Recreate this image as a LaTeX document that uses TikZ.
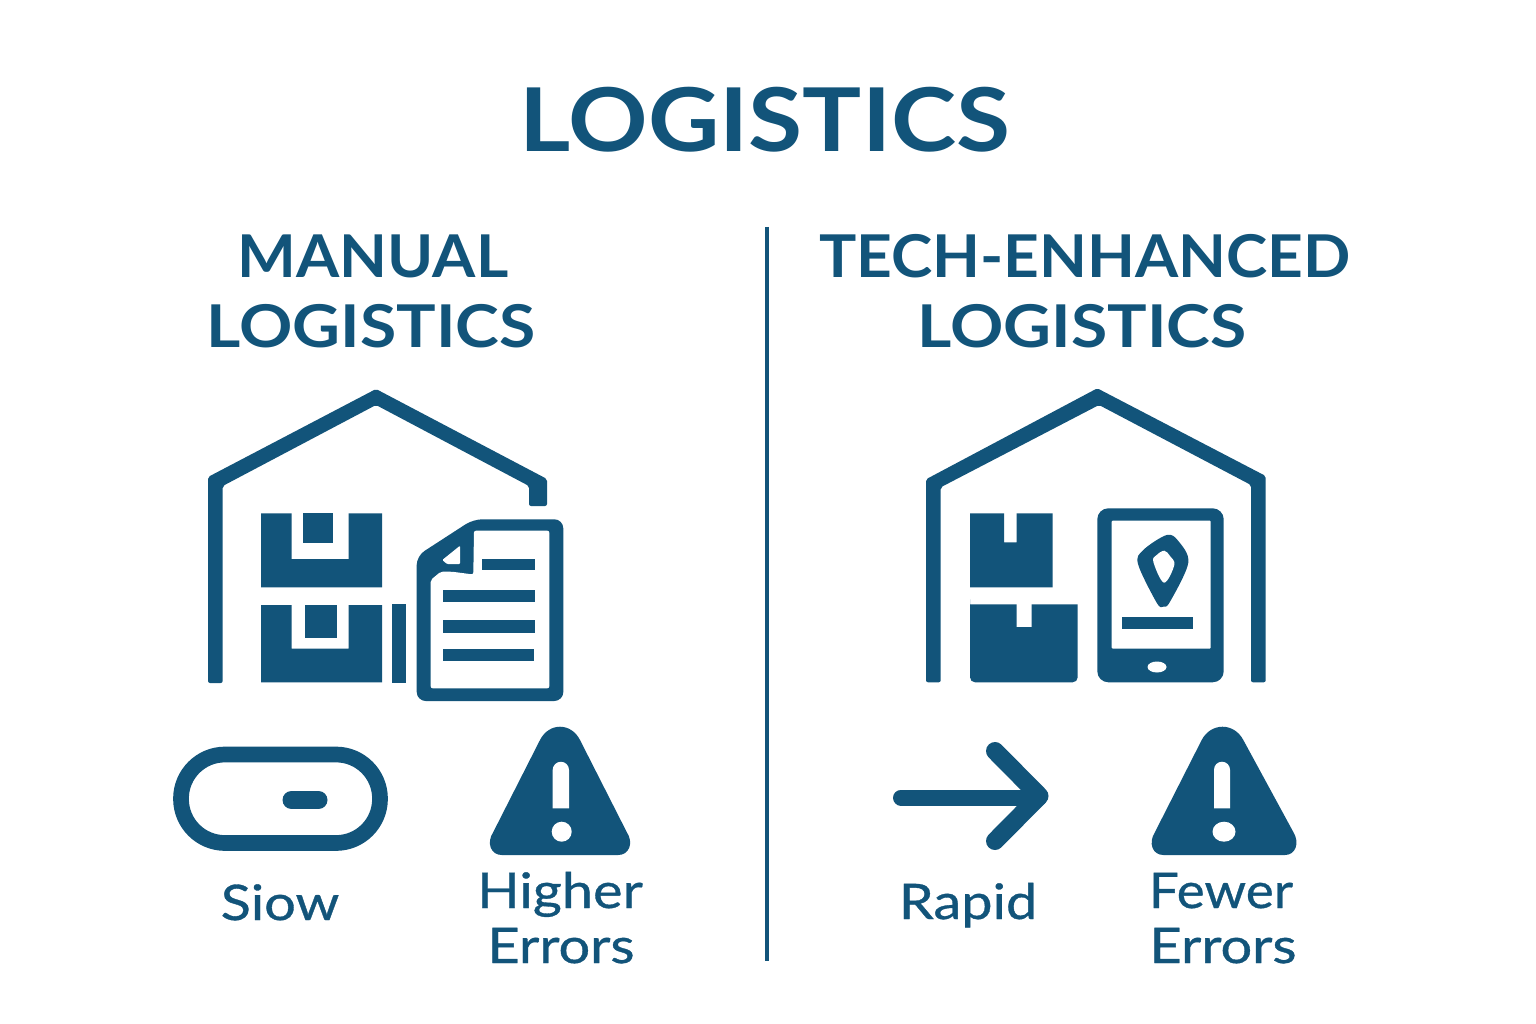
\documentclass[tikz,border=0pt]{standalone}
\usepackage{fontspec}
\setmainfont{Lato}
\newfontfamily\titlefont[FakeStretch=1.12]{Lato}
\newfontfamily\headfont[FakeStretch=1.055]{Lato}
\newfontfamily\capfont[FakeStretch=1.14,FakeBold=0.7]{Lato}
\usetikzlibrary{positioning}
\definecolor{logiblue}{HTML}{12547A}
\tikzset{
    titletext/.style={anchor=base, inner sep=0pt, color=logiblue, font=\titlefont\fontsize{88}{88}\selectfont\bfseries},
    headtext/.style={anchor=base, inner sep=0pt, color=logiblue, font=\titlefont\fontsize{59}{59}\selectfont\bfseries},
    wordtext/.style={headtext, font=\headfont\fontsize{59}{59}\selectfont\bfseries},
    captext/.style={anchor=base, inner sep=0pt, color=logiblue, font=\capfont\fontsize{49}{49}\selectfont},
    iconfill/.style={fill=logiblue, draw=none},
    holefill/.style={fill=white, draw=none},
    iconline/.style={draw=logiblue, line cap=round, line join=round}
}

\begin{document}
\begin{tikzpicture}[x=1pt, y=-1pt]
    \useasboundingbox (0,0) rectangle (1536,1024);
    \fill[white] (0,0) rectangle (1536,1024);

    % Title
    \node[titletext] (title) at (765,152) {LOGISTICS};

    % Divider
    \draw[logiblue, line width=3.5pt] (767,227) -- (767,961);

    % === Left side: Manual ===
    \node[wordtext] (manualA) at (373,277) {MANUAL};
    \node[headtext] (manualB) at (371,347) {LOGISTICS};

    % Warehouse outline
    \fill[iconfill, rounded corners=2pt] (208,683) -- (208,477) -- (376,389) -- (547,479) -- (547,506) -- (529,506)
        -- (529,486) -- (376,405) -- (222.7,486) -- (222.7,683) -- cycle;

    % Boxes
    \fill[iconfill] (261,513.3) -- (291.7,513.3) -- (291.7,559) -- (348.7,559) -- (348.7,513.3) -- (382,513.3)
        -- (382,587.3) -- (261,587.3) -- cycle;
    \fill[iconfill] (303.3,513.3) rectangle (333,542.7);
    \fill[iconfill] (261,605) -- (291.7,605) -- (291.7,648.7) -- (348.7,648.7) -- (348.7,605) -- (382,605)
        -- (382,682.3) -- (261,682.3) -- cycle;
    \fill[iconfill] (305.3,605) rectangle (336.7,637.7);
    \fill[iconfill] (391.7,604.3) rectangle (405.7,682.7);

    % Paper sheet
    \fill[iconfill, rounded corners=9pt] (473.3,519.3) -- (563.3,519.3) -- (563.3,701) -- (416.7,701)
        -- (416.7,556) -- cycle;
    \fill[holefill, rounded corners=2pt] (474,530.7) -- (549.3,530.7) -- (549.3,688.3) -- (430.7,688.3) -- (430.7,580)
        -- (440.7,571.7) -- (452,571.7) -- (473.3,574.5) -- cycle;
    \fill[holefill, rounded corners=1pt] (460,545.7) -- (460,564) -- (447,564) -- (442.3,560) -- cycle;
    \fill[iconfill] (482.3,558.7) rectangle (534.7,570);
    \fill[iconfill] (443.3,590) rectangle (534.7,602.3);
    \fill[iconfill] (443.3,620.3) rectangle (534.7,633.3);
    \fill[iconfill] (443.3,648.7) rectangle (534,661);

    % Slow gauge
    \draw[iconline, line width=15.7pt, rounded corners=44pt] (181,754.5) rectangle (380,843);
    \draw[iconline, line width=18pt] (291.5,800) -- (318.5,800);
    \node[captext] (slowlabel) at (280,920) {Siow};

    % Warning sign
    \fill[iconfill] (501.7,855) .. controls (491,855) and (486,843) .. (493.3,832) -- (540,740)
        .. controls (549,722.3) and (571,722.3) .. (580,740) -- (626.7,832)
        .. controls (634,843) and (629,855) .. (618.3,855) -- cycle;
    \fill[holefill] (552.7,808.3) -- (552.7,769.9) arc (180:0:8.15pt) -- (569,808.3) -- cycle;
    \fill[holefill] (561.7,831.7) circle (10pt);
    \node[captext] (higherlabel) at (560,908) {Higher};
    \node[captext] (errorsA) at (561,963) {Errors};

    % === Right side: Tech-enhanced ===
    \node[wordtext] (techA) at (1085,277) {TECH-ENHANCED};
    \node[headtext] (techB) at (1082,347) {LOGISTICS};

    % Warehouse outline
    \fill[iconfill, rounded corners=2pt] (926,682.3) -- (926,479.3) -- (1097.3,388.3) -- (1265.7,476) -- (1265.7,682.3)
        -- (1251,682.3) -- (1251,485) -- (1099,405) -- (940.7,487.3) -- (940.7,682.3) -- cycle;

    % Boxes
    \fill[iconfill] (970,513.3) -- (1004,513.3) -- (1004,542.3) -- (1016.7,542.3) -- (1016.7,513.3) -- (1052.7,513.3)
        -- (1052.7,587.3) -- (970,587.3) -- cycle;
    \fill[iconfill] (970,604.3) -- (1016.7,604.3) -- (1016.7,627) -- (1031.7,627) -- (1031.7,604.3)
        -- (1077.7,604.3) [rounded corners=5pt] -- (1077.7,682.3) -- (970,682.3) -- (970,604.3) [sharp corners] -- cycle;

    % Tablet
    \fill[iconfill, rounded corners=11pt] (1097.3,508.3) rectangle (1223.7,682.3);
    \fill[holefill, rounded corners=1pt] (1111.7,520.7) rectangle (1210.7,648.7);
    \fill[holefill] (1157,667) ellipse (9.5pt and 5.5pt);
    \fill[iconfill] (1122.3,616.7) rectangle (1193,629);

    % Map pin
    \fill[iconfill] plot[smooth cycle, tension=0.55] coordinates {(1166.7,535) (1178.3,541) (1188.3,562.7) (1170,601.7)
        (1163.3,606.7) (1156.7,602.7) (1138,564) (1143.3,550)};
    \fill[holefill] plot[smooth cycle, tension=0.6] coordinates {(1164.3,550.7) (1170,556) (1174.3,565) (1164,582.7)
        (1153.3,561.7) (1156.7,555)};

    % Speed arrow
    \draw[iconline, line width=16pt] (901,797.5) -- (1039,797.5);
    \draw[iconline, line width=18pt] (995,751) -- (1039.5,796) -- (995,841);
    \node[captext] (rapidlabel) at (968,919) {Rapid};

    % Warning sign
    \fill[iconfill] (1163.3,855) .. controls (1152.5,855) and (1148,843) .. (1155,832) -- (1201.7,740)
        .. controls (1211,722.3) and (1234,722.3) .. (1243.3,740) -- (1293.3,832)
        .. controls (1300,843) and (1295.5,855) .. (1285,855) -- cycle;
    \fill[holefill] (1214,808.3) -- (1214,769.7) arc (180:0:8pt) -- (1230,808.3) -- cycle;
    \fill[holefill] (1224,831.7) ellipse (11.5pt and 10pt);
    \node[captext, xscale=0.95] (fewerlabel) at (1221,908) {Fewer};
    \node[captext] (errorsB) at (1223,963) {Errors};
\end{tikzpicture}
\end{document}
